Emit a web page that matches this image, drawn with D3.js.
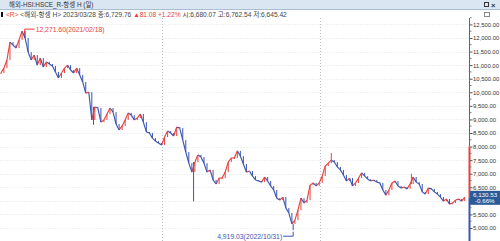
<!DOCTYPE html>
<html>
<head>
<meta charset="utf-8">
<script src="https://cdn.jsdelivr.net/npm/d3@7"></script>
<style>
  body { margin: 0; background: #fff; }
  svg { display: block; font-family: "Liberation Sans", "Noto Sans CJK KR", sans-serif; }
</style>
</head>
<body>
<div id="chart"></div>
<script>
// Weekly closes of HSCEI (항셍 H), first week ending 2020-12-25
const firstWeek = "2020-12-25";
const weeklyClose = [
  10710, 10890, 11190, 11850, 11740, 11630, 11930, 12250, 12000, 11480,
  11190, 11370, 11000, 11260, 10930, 11120, 11040, 10970, 10750, 10530,
  10710, 10890, 11000, 10820, 10710, 10890, 10640, 10380, 9970, 10010,
  8980, 9460, 9420, 8900, 8980, 9200, 9420, 9270, 8830, 8610,
  8760, 8980, 9240, 9160, 8980, 9050, 9200, 8900, 8540, 8500,
  8310, 8200, 8130, 8060, 8350, 8570, 8500, 8390, 8720, 8680,
  8240, 7800, 7390, 7060, 7430, 7690, 7615, 7390, 7060, 7140,
  6770, 6620, 6840, 6840, 7060, 7430, 7580, 7580, 7840, 7650,
  7360, 7060, 7100, 6910, 6770, 6730, 6690, 6880, 6730, 6550,
  6400, 6100, 6030, 6140, 5740, 5550, 5150, 5290, 5660, 6100,
  5920, 6030, 6580, 6660, 6550, 6660, 6910, 7280, 7390, 7500,
  7430, 7250, 7140, 6950, 6730, 6840, 6550, 6660, 6840, 7030,
  6910, 6800, 6730, 6770, 6690, 6660, 6400, 6210, 6400, 6660,
  6730, 6550, 6470, 6510, 6440, 6620, 6880, 6690, 6620, 6330,
  6250, 6470, 6440, 6330, 6250, 6140, 5990, 6070, 5880, 5920,
  6030, 6070, 5990, 6130.53
];

// intraweek extremes that stick out of the weekly moves
const spikes = [
  { date: "2021-02-18", value: 12271.60 },
  { date: "2021-07-27", value: 8800 },
  { date: "2022-03-15", value: 5980 },
  { date: "2022-10-31", value: 4919.03 },
  { date: "2023-01-27", value: 7760 },
  { date: "2023-07-31", value: 7000 }
];

const yTicks = [5000, 5500, 6000, 6500, 7000, 7500, 8000, 8500, 9000, 9500,
  10000, 10500, 11000, 11500, 12000, 12500];
const yearLines = ["2022-01-01", "2023-01-01"];

const titleText = "해외-HSI:HSCE_R-항셍 H (일)";
const lastClose = 6130.53;
const lastChange = "-0.66%";
const rangeTop = 8000;

const W = 500, H = 241;
const plotRight = 469;
const parse = d3.timeParse("%Y-%m-%d");
const fmt = d3.format(",.2f");

const svg = d3.select("#chart").append("svg")
  .attr("width", W).attr("height", H);

// scales
const x = d3.scaleTime()
  .domain([parse("2020-12-23"), parse("2023-12-11")])
  .range([0, plotRight]);
const y = d3.scaleLinear().domain([5000, 12000]).range([228, 38]);

const start = parse(firstWeek);
const candles = weeklyClose.map((c, i) => ({
  date: d3.timeWeek.offset(start, i),
  prevDate: d3.timeWeek.offset(start, i === 0 ? 0 : i - 1),
  open: i === 0 ? c : weeklyClose[i - 1],
  close: c
}));

// grid
const grid = svg.append("g");
grid.selectAll(".hg").data(yTicks).join("line")
  .attr("x1", 0).attr("x2", plotRight)
  .attr("y1", d => Math.round(y(d)) + 0.5).attr("y2", d => Math.round(y(d)) + 0.5)
  .attr("stroke", "#eef0f2").attr("stroke-dasharray", "2,1");
grid.selectAll(".vg").data(yearLines).join("line")
  .attr("x1", d => Math.round(x(parse(d))) + 0.5).attr("x2", d => Math.round(x(parse(d))) + 0.5)
  .attr("y1", 18).attr("y2", H)
  .attr("stroke", "#b8bcc4").attr("stroke-dasharray", "1,2");

// price moves: each week drawn from last close to its close, red up / blue down
const up = "#e5423d", down = "#3c55b0";
const plot = svg.append("g");
plot.selectAll(".spike").data(spikes).join("line")
  .attr("x1", d => x(parse(d.date))).attr("x2", d => x(parse(d.date)))
  .attr("y1", d => y(d.value))
  .attr("y2", d => {
    const t = parse(d.date);
    const c = candles.reduce((a, b) => Math.abs(b.date - t) < Math.abs(a.date - t) ? b : a);
    return y(c.close);
  })
  .attr("stroke", (d, i) => i === 0 || i === 4 || i === 5 ? up : down)
  .attr("stroke-width", 1);
plot.selectAll(".seg").data(candles.slice(1)).join("line")
  .attr("x1", d => x(d.prevDate)).attr("x2", d => x(d.date))
  .attr("y1", d => y(d.open)).attr("y2", d => y(d.close))
  .attr("stroke", d => d.close >= d.open ? up : down)
  .attr("stroke-width", 1.15);
plot.selectAll(".body").data(candles).join("rect")
  .attr("x", d => x(d.date) - 0.5)
  .attr("width", 1)
  .attr("y", d => y(Math.max(d.open, d.close)))
  .attr("height", d => Math.max(1, Math.abs(y(d.open) - y(d.close))))
  .attr("fill", d => d.close >= d.open ? up : down);

// high / low annotations
const hi = spikes[0], lo = spikes[3];
const hx = x(parse(hi.date)), hy = y(hi.value);
svg.append("path")
  .attr("d", `M${hx},${hy + 2}V${hy - 1.5}H${hx + 10}`)
  .attr("fill", "none").attr("stroke", up);
svg.append("text").attr("x", hx + 11).attr("y", hy + 1)
  .attr("font-size", 6.8).attr("fill", up)
  .text(fmt(hi.value) + "(2021/02/18)");
const lx = x(parse(lo.date)), ly = y(lo.value);
svg.append("path")
  .attr("d", `M${lx - 10},${ly + 6}H${lx}V${ly + 1.5}`)
  .attr("fill", "none").attr("stroke", down);
svg.append("text").attr("x", lx - 11).attr("y", ly + 8.5)
  .attr("text-anchor", "end")
  .attr("font-size", 6.8).attr("fill", down)
  .text(fmt(lo.value) + "(2022/10/31)");

// right axis
const axisX = plotRight + 0.5;
svg.append("line").attr("x1", axisX).attr("x2", axisX)
  .attr("y1", 18).attr("y2", y(rangeTop)).attr("stroke", "#666");
svg.append("line").attr("x1", axisX).attr("x2", axisX)
  .attr("y1", y(rangeTop)).attr("y2", y(lastClose)).attr("stroke", up).attr("stroke-width", 2);
svg.append("line").attr("x1", axisX).attr("x2", axisX)
  .attr("y1", y(lastClose)).attr("y2", H).attr("stroke", down).attr("stroke-width", 2);

// 6,000 sits under the last-price box, so its label is not drawn
const yAxis = d3.axisRight(y).tickValues(yTicks).tickSize(2.5).tickPadding(0.5)
  .tickFormat(d => d === 6000 ? "" : fmt(d));
const ag = svg.append("g").attr("transform", `translate(${plotRight + 1},0)`).call(yAxis);
ag.select(".domain").remove();
ag.selectAll("line").attr("stroke", "#555");
ag.selectAll("text").attr("font-size", 5.95).attr("fill", "#333")
  .attr("font-family", "Liberation Sans, sans-serif");
// minor ticks
ag.selectAll(".minor").data(yTicks.map(d => d + 250)).join("line")
  .attr("x1", 0).attr("x2", 1.5)
  .attr("y1", d => y(d)).attr("y2", d => y(d)).attr("stroke", "#777");

// last price box
const by = y(lastClose);
svg.append("rect").attr("x", plotRight + 1).attr("y", by - 6.5)
  .attr("width", W - plotRight - 1).attr("height", 14).attr("fill", "#2b5a97");
svg.append("text").attr("x", plotRight + 4).attr("y", by - 0.5)
  .attr("font-size", 6.2).attr("fill", "#fff").text(fmt(lastClose));
svg.append("text").attr("x", plotRight + 6).attr("y", by + 6)
  .attr("font-size", 6.2).attr("fill", "#fff").text(lastChange);

// title bar
svg.append("rect").attr("x", 0).attr("y", 0).attr("width", W).attr("height", 9)
  .attr("fill", "#dae6f2");
svg.append("line").attr("x1", 0).attr("x2", W).attr("y1", 9.5).attr("y2", 9.5)
  .attr("stroke", "#a9bdd3");
svg.append("text").attr("x", 9).attr("y", 7.3).attr("font-size", 6.4)
  .attr("fill", "#333").text(titleText);
svg.append("rect").attr("x", 484.5).attr("y", 2.5).attr("width", 4).attr("height", 4)
  .attr("fill", "none").attr("stroke", "#333");
svg.append("text").attr("x", 491).attr("y", 7.5).attr("font-size", 7.5)
  .attr("font-weight", "bold").attr("fill", "#333").text("×");
svg.append("rect").attr("x", 484.5).attr("y", 12.5).attr("width", 5).attr("height", 4)
  .attr("fill", "none").attr("stroke", "#888");

// info line
svg.append("rect").attr("x", 1).attr("y", 12).attr("width", 2).attr("height", 5).attr("fill", "#111");
const info = svg.append("text").attr("x", 6).attr("y", 16.8).attr("font-size", 6.6).attr("fill", "#444");
info.append("tspan").attr("fill", up).text("<R> ");
info.append("tspan").text("<해외-항셍 H> 2023/03/28 종:6,729.76 ");
info.append("tspan").attr("fill", up).text("▲81.08 +1.22% ");
info.append("tspan").text("시:6,680.07 고:6,762.54 저:6,645.42");
</script>
</body>
</html>
